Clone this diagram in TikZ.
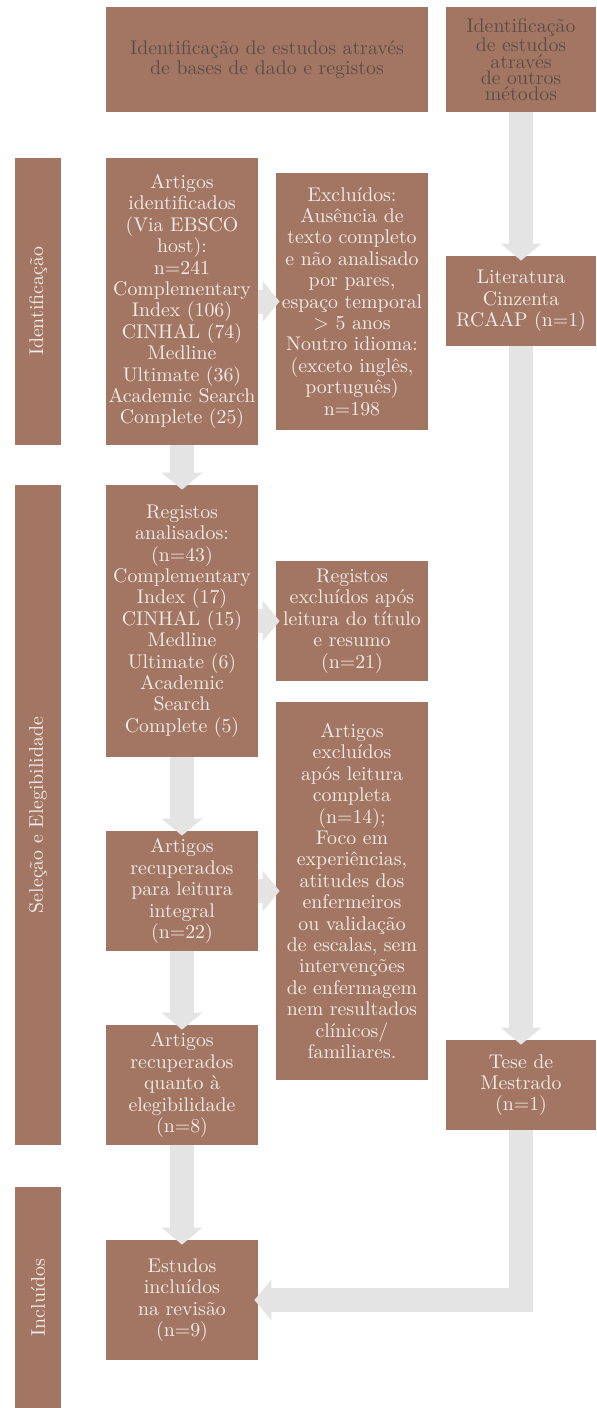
\documentclass[tikz,border=0pt]{standalone}
\usepackage{tikz}
\usetikzlibrary{arrows.meta}
\definecolor{prismabrown}{HTML}{A37663}
\definecolor{prismagrey}{HTML}{E4E4E4}
\definecolor{prismalight}{HTML}{F3ECE8}
\definecolor{prismadark}{HTML}{5E4D46}

\begin{document}
\begin{tikzpicture}[x=0.5pt,y=-0.5pt,
  every node/.style={font=\fontsize{9.9}{10.7}\selectfont, inner sep=0pt, align=center},
  stagebox/.style={fill=prismabrown, text=prismalight, minimum width=76pt},
  sidebox/.style={fill=prismabrown, text=prismalight, minimum width=75pt},
  headbox/.style={fill=prismabrown, text=prismadark, minimum height=52.5pt},
  phasebar/.style={fill=prismabrown, text=prismalight, minimum height=23pt, rotate=90},
  flowarrow/.style={draw=prismagrey, line width=12pt, -{Triangle[width=20pt,length=8.5pt]}}]
  \useasboundingbox (0,0) rectangle (596,1408);

  \node[headbox, minimum width=161pt, font=\fontsize{9.9}{8.6}\selectfont] (headDb) at (267,59.5)
    {Identificação de estudos através\\de bases de dado e registos};
  \node[headbox, minimum width=75pt, font=\fontsize{9.9}{8.1}\selectfont] (headOther) at (521,59.5)
    {Identificação\\de estudos\\através\\de outros\\métodos};

  \node[phasebar, minimum width=143.5pt] (phaseId) at (38,301.5) {Identificação};
  \node[phasebar, minimum width=330pt] (phaseSel) at (38,815) {Seleção e Elegibilidade};
  \node[phasebar, minimum width=110.5pt] (phaseInc) at (38,1297.5) {Incluídos};

  \node[stagebox, minimum height=143.5pt] (artIdent) at (182,301.5)
    {Artigos\\identificados\\(Via EBSCO\\host):\\n=241\\Complementary\\Index (106)\\CINHAL (74)\\Medline\\Ultimate (36)\\Academic Search\\Complete (25)};
  \node[stagebox, minimum height=128.5pt] (excluded) at (352,301.5)
    {Excluídos:\\Ausência de\\texto completo\\e não analisado\\por pares,\\espaço temporal\\$>$ 5 anos\\Noutro idioma:\\(exceto inglês,\\português)\\n=198};
  \node[stagebox, minimum height=136pt] (regAnal) at (182,621)
    {Registos\\analisados:\\(n=43)\\Complementary\\Index (17)\\CINHAL (15)\\Medline\\Ultimate (6)\\Academic\\Search\\Complete (5)};
  \node[stagebox, minimum height=60pt] (regExcl) at (352,621)
    {Registos\\excluídos após\\leitura do título\\e resumo\\(n=21)};
  \node[stagebox, minimum height=189pt] (artExcl) at (352,891)
    {Artigos\\excluídos\\após leitura\\completa\\(n=14);\\Foco em\\experiências,\\atitudes dos\\enfermeiros\\ou validação\\de escalas, sem\\intervenções\\de enfermagem\\nem resultados\\clínicos/\\familiares.};
  \node[stagebox, minimum height=60pt] (artRead) at (182,891)
    {Artigos\\recuperados\\para leitura\\integral\\(n=22)};
  \node[stagebox, minimum height=60pt] (artElig) at (182,1085)
    {Artigos\\recuperados\\quanto à\\elegibilidade\\(n=8)};
  \node[stagebox, minimum height=60pt] (included) at (182,1300)
    {Estudos\\incluídos\\na revisão\\(n=9)};

  \node[sidebox, minimum height=45pt] (greyLit) at (521,301)
    {Literatura\\Cinzenta\\RCAAP (n=1)};
  \node[sidebox, minimum height=45pt] (thesis) at (521,1085)
    {Tese de\\Mestrado\\(n=1)};

  \draw[flowarrow] (artIdent.east) -- ([xshift=2pt]excluded.west);
  \draw[flowarrow] (artIdent.south) -- ([yshift=-2.5pt]regAnal.north);
  \draw[flowarrow] (regAnal.east) -- ([xshift=2pt]regExcl.west);
  \draw[flowarrow] (regAnal.south) -- ([yshift=-2.5pt]artRead.north);
  \draw[flowarrow] (artRead.east) -- ([xshift=2pt]artExcl.west);
  \draw[flowarrow] (artRead.south) -- ([yshift=-2.5pt]artElig.north);
  \draw[flowarrow] (artElig.south) -- ([yshift=-2.5pt]included.north);
  \draw[flowarrow] (headOther.south) -- ([yshift=-2.5pt]greyLit.north);
  \draw[flowarrow] (greyLit.south) -- ([yshift=-2.5pt]thesis.north);
  \draw[flowarrow] (thesis.south) |- ([xshift=-2pt]included.east);
\end{tikzpicture}
\end{document}
